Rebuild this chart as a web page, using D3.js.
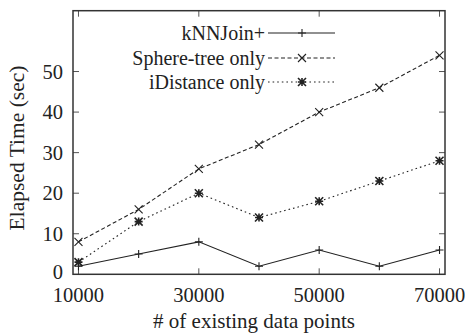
<!DOCTYPE html>
<html>
<head>
<meta charset="utf-8">
<script src="https://cdn.jsdelivr.net/npm/d3@7"></script>
<style>
  body { margin: 0; background: #fff; }
  text { font-family: "Liberation Serif", "DejaVu Serif", serif; fill: #222; }
</style>
</head>
<body>
<div id="chart"></div>
<script>
// data
const xValues = [10000, 20000, 30000, 40000, 50000, 60000, 70000];
const knnJoin = [2, 5, 8, 2, 6, 2, 6];
const sphereTree = [8, 16, 26, 32, 40, 46, 54];
const iDistance = [3, 13, 20, 14, 18, 23, 28];
const seriesNames = ['kNNJoin+', 'Sphere-tree only', 'iDistance only'];
const xTicks = [10000, 30000, 50000, 70000];
const yTicks = [0, 10, 20, 30, 40, 50];

const W = 465, H = 334;
const m = { left: 73, right: 20, top: 10.7, bottom: 59.7 };

const svg = d3.select('#chart').append('svg')
  .attr('width', W).attr('height', H);

const x = d3.scaleLinear().domain([9090, 70910]).range([m.left, W - m.right]);
const y = d3.scaleLinear().domain([0, 65]).range([H - m.bottom, m.top]);

const ink = '#222';

// ticks on all four sides, pointing inward
const tickLen = 6;
const g = svg.append('g');
xTicks.forEach(t => {
  g.append('line').attr('x1', x(t)).attr('x2', x(t))
    .attr('y1', y(0)).attr('y2', y(0) - tickLen).attr('stroke', '#555').attr('stroke-width', 1);
  g.append('line').attr('x1', x(t)).attr('x2', x(t))
    .attr('y1', m.top).attr('y2', m.top + tickLen).attr('stroke', '#555').attr('stroke-width', 1);
  g.append('text').attr('x', x(t)).attr('y', 302)
    .attr('text-anchor', 'middle').attr('font-size', 20.5).text(t);
});
yTicks.forEach(t => {
  if (t > 0) {
    g.append('line').attr('x1', m.left).attr('x2', m.left + tickLen)
      .attr('y1', y(t)).attr('y2', y(t)).attr('stroke', '#555').attr('stroke-width', 1);
    g.append('line').attr('x1', W - m.right).attr('x2', W - m.right - tickLen)
      .attr('y1', y(t)).attr('y2', y(t)).attr('stroke', '#555').attr('stroke-width', 1);
  }
  // the 0 label sits a touch higher so it clears the first x label
  g.append('text').attr('x', 63).attr('y', y(t) - (t === 0 ? 2 : 0)).attr('dy', '0.34em')
    .attr('text-anchor', 'end').attr('font-size', 20.5).text(t);
});

// frame
svg.append('rect')
  .attr('x', m.left).attr('y', m.top)
  .attr('width', W - m.right - m.left).attr('height', H - m.bottom - m.top)
  .attr('fill', 'none').attr('stroke', '#333').attr('stroke-width', 1.5);

// axis titles
svg.append('text').attr('x', 254).attr('y', 327.5)
  .attr('text-anchor', 'middle').attr('font-size', 21).text('# of existing data points');
svg.append('text')
  .attr('transform', 'translate(24,148) rotate(-90)')
  .attr('text-anchor', 'middle').attr('font-size', 21.5).text('Elapsed Time (sec)');

// markers
function drawMarker(sel, kind, cx, cy) {
  const s = 4;
  const p = d3.path();
  if (kind === 'plus' || kind === 'star') {
    p.moveTo(cx - s, cy); p.lineTo(cx + s, cy);
    p.moveTo(cx, cy - s); p.lineTo(cx, cy + s);
  }
  if (kind === 'cross' || kind === 'star') {
    p.moveTo(cx - s, cy - s); p.lineTo(cx + s, cy + s);
    p.moveTo(cx - s, cy + s); p.lineTo(cx + s, cy - s);
  }
  sel.append('path').attr('d', p.toString())
    .attr('stroke', ink).attr('stroke-width', kind === 'star' ? 1.6 : 1.1).attr('fill', 'none');
}

const series = [
  { name: seriesNames[0], values: knnJoin, dash: null, marker: 'plus' },
  { name: seriesNames[1], values: sphereTree, dash: '4,2.5', marker: 'cross' },
  { name: seriesNames[2], values: iDistance, dash: '1.6,3', marker: 'star' }
];

const line = d3.line().x((d, i) => x(xValues[i])).y(d => y(d));

series.forEach(s => {
  svg.append('path').datum(s.values)
    .attr('d', line).attr('fill', 'none')
    .attr('stroke', ink).attr('stroke-width', 1.1)
    .attr('stroke-dasharray', s.dash);
  const mg = svg.append('g');
  s.values.forEach((v, i) => drawMarker(mg, s.marker, x(xValues[i]), y(v)));
});

// legend
const legY = [33, 58, 82];
series.forEach((s, i) => {
  svg.append('text').attr('x', 265).attr('y', legY[i]).attr('dy', '0.34em')
    .attr('text-anchor', 'end').attr('font-size', 20).text(s.name);
  svg.append('line').attr('x1', 268).attr('x2', 335)
    .attr('y1', legY[i]).attr('y2', legY[i])
    .attr('stroke', ink).attr('stroke-width', 1.1).attr('stroke-dasharray', s.dash);
  drawMarker(svg, s.marker, 302, legY[i]);
});
</script>
</body>
</html>
